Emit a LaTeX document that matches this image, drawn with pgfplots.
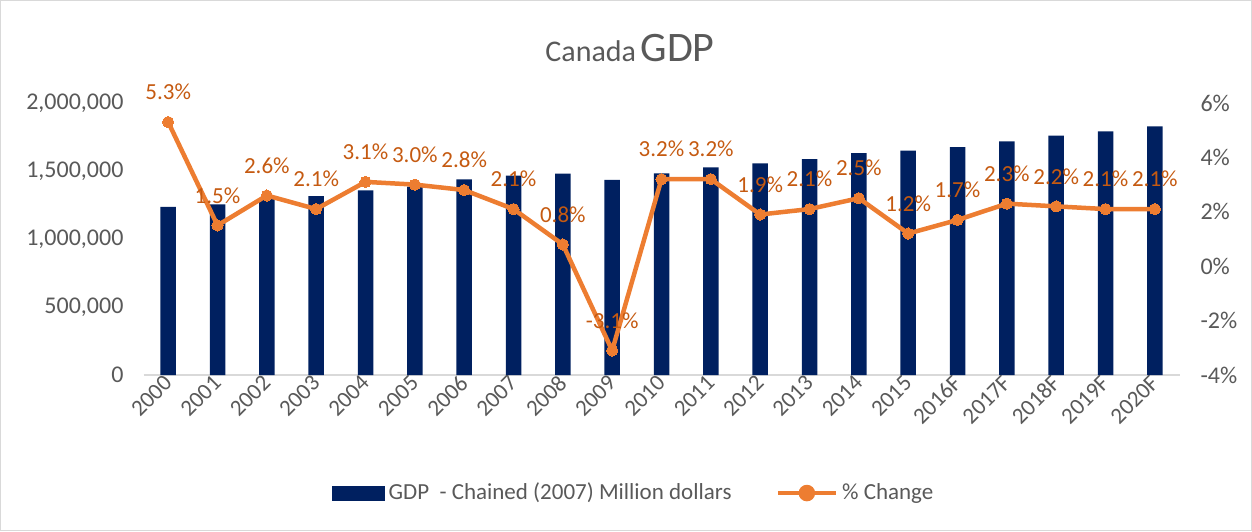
\documentclass[border=0pt]{standalone}
\usepackage{fontspec}
\setmainfont{Carlito}
\usepackage{pgfplots}
\pgfplotsset{compat=1.18}
\usepackage{pgfplotstable}

\definecolor{gdpblue}{RGB}{0,32,96}
\definecolor{chgorange}{RGB}{237,125,49}
\definecolor{lblorange}{RGB}{197,90,17}
\definecolor{txtgray}{RGB}{89,89,89}

% x = category index, gdp = chained 2007 million dollars, pct = % change
\pgfplotstableread{
x gdp pct
0 1237000 5.3
1 1255000 1.5
2 1294000 2.6
3 1316000 2.1
4 1358000 3.1
5 1385000 3.0
6 1439000 2.8
7 1466000 2.1
8 1480000 0.8
9 1434000 -3.1
10 1483000 3.2
11 1527000 3.2
12 1556000 1.9
13 1588000 2.1
14 1632000 2.5
15 1649000 1.2
16 1676000 1.7
17 1718000 2.3
18 1760000 2.2
19 1792000 2.1
20 1828000 2.1
}\gdpdata

\pgfplotsset{
  common/.style={
    at={(71.75pt,78pt)}, anchor=south west,
    width=518pt, height=136pt, scale only axis,
    xmin=-0.5, xmax=20.5,
    xtick={0,...,20},
    tick style={draw=none},
    /pgf/number format/assume math mode=true,
    clip=false,
  },
}

\begin{document}
\begin{tikzpicture}
\useasboundingbox (0,0) rectangle (626pt,265.5pt);
\draw[gray!30] (0.4pt,0.4pt) rectangle (625.6pt,265.1pt);
\node[text=txtgray] at (315pt,241.5pt)
  {{\fontsize{15}{18}\selectfont Canada} {\fontsize{21}{25}\selectfont GDP}};

\begin{axis}[
    common,
    ymin=0, ymax=2000000,
    ytick={0,500000,...,2000000},
    scaled y ticks=false,
    yticklabel style={/pgf/number format/fixed, /pgf/number format/1000 sep={,}},
    yticklabel style={text=txtgray, font=\fontsize{12}{14}\selectfont, xshift=-6.5pt},
    xticklabels={2000,2001,2002,2003,2004,2005,2006,2007,2008,2009,2010,2011,2012,2013,2014,2015,2016F,2017F,2018F,2019F,2020F},
    xticklabel style={text=txtgray, font=\fontsize{11.5}{13}\selectfont, rotate=45, anchor=east, yshift=-1.5pt, inner sep=1.5pt},
    axis x line*=bottom, axis y line*=left,
    x axis line style={-, draw=gray!30, line width=1pt},
    y axis line style={draw=none},
]
\addplot[ybar, bar width=7.75pt, fill=gdpblue, draw=none] table[x=x, y=gdp] {\gdpdata};
\end{axis}

\begin{axis}[
    common,
    ymin=-4, ymax=6,
    ytick={-4,-2,...,6},
    yticklabel={\pgfmathprintnumber{\tick}\%},
    yticklabel style={text=txtgray, font=\fontsize{12}{14}\selectfont, xshift=7pt},
    xticklabels={},
    axis x line=none, axis y line*=right,
    y axis line style={draw=none},
    legend style={at={(0.474,-0.434)}, anchor=center, draw=none, fill=none,
      legend columns=2, font=\fontsize{11.5}{13}\selectfont, text=txtgray,
      /tikz/every even column/.append style={column sep=20pt}},
]
\addlegendimage{legend image code/.code={\fill[gdpblue] (0pt,-3.5pt) rectangle (26pt,3.5pt);}}
\addlegendentry{GDP\ \ - Chained (2007) Million dollars}
\addplot[chgorange, line width=2.25pt, mark=*, mark size=2.8pt,
    mark options={fill=chgorange, draw=chgorange, line width=0pt},
    legend image code/.code={\draw[chgorange, line width=2.25pt] (0pt,0pt) -- (29pt,0pt);
      \fill[chgorange] (14.5pt,0pt) circle (3pt);},
    point meta=explicit,
    nodes near coords={\pgfmathprintnumber[fixed, fixed zerofill, precision=1]{\pgfplotspointmeta}\%},
    every node near coord/.append style={anchor=center, yshift=15pt, text=lblorange,
      font=\fontsize{11.5}{13}\selectfont},
  ] table[x=x, y=pct, meta=pct] {\gdpdata};
\addlegendentry{\% Change}
\end{axis}
\end{tikzpicture}
\end{document}
